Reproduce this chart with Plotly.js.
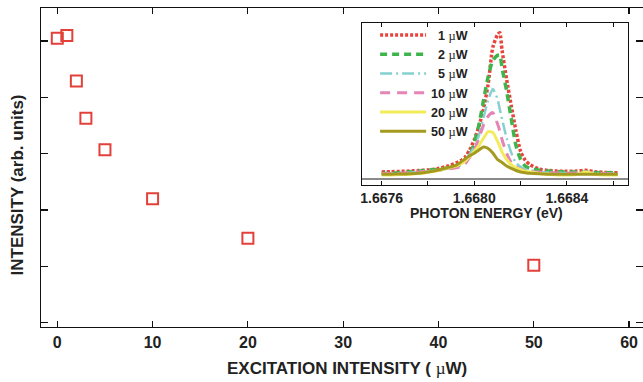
<!DOCTYPE html>
<html><head><meta charset="utf-8">
<script src="https://cdn.plot.ly/plotly-3.0.1.min.js"></script>
<style>html,body{margin:0;padding:0;background:#fff}#chart{width:643px;height:382px}</style>
</head><body><div id="chart"></div>
<script>
// Main panel: integrated intensity vs excitation power
const power = [0, 1, 2, 3, 5, 10, 20, 50];
const intensity = [5.05, 5.10, 4.29, 3.63, 3.07, 2.20, 1.50, 1.02];

// Inset: PL spectra
const energy = [1.66760,1.66764,1.66768,1.66772,1.66776,1.66780,1.66784,1.66788,1.66792,1.66794,1.66796,1.66798,1.66800,1.66802,1.66804,1.66806,1.66808,1.66810,1.66811,1.66812,1.66814,1.66816,1.66818,1.66820,1.66822,1.66824,1.66828,1.66832,1.66836,1.66840,1.66844,1.66848,1.66852,1.66856,1.66860,1.66862];
const spec1uW  = [0.050,0.052,0.054,0.056,0.060,0.064,0.072,0.088,0.110,0.125,0.150,0.200,0.270,0.360,0.480,0.650,0.900,0.985,1.000,0.880,0.680,0.500,0.330,0.190,0.130,0.100,0.070,0.060,0.056,0.054,0.056,0.062,0.052,0.047,0.045,0.044];
const spec2uW  = [0.040,0.042,0.045,0.050,0.055,0.062,0.068,0.075,0.088,0.100,0.125,0.160,0.250,0.370,0.540,0.700,0.810,0.845,0.848,0.760,0.600,0.410,0.230,0.135,0.090,0.075,0.062,0.056,0.052,0.050,0.050,0.048,0.046,0.045,0.044,0.044];
const spec5uW  = [0.040,0.040,0.042,0.045,0.050,0.055,0.062,0.072,0.092,0.110,0.135,0.170,0.220,0.300,0.420,0.540,0.615,0.550,0.480,0.410,0.280,0.180,0.110,0.085,0.068,0.060,0.050,0.046,0.044,0.043,0.044,0.046,0.043,0.040,0.040,0.040];
const spec10uW = [0.040,0.040,0.042,0.045,0.050,0.055,0.060,0.068,0.078,0.085,0.105,0.150,0.200,0.280,0.370,0.430,0.455,0.380,0.330,0.270,0.177,0.115,0.085,0.068,0.060,0.055,0.048,0.045,0.043,0.042,0.043,0.045,0.042,0.040,0.040,0.040];
const spec20uW = [0.030,0.030,0.032,0.035,0.040,0.048,0.058,0.075,0.090,0.105,0.125,0.155,0.190,0.230,0.280,0.325,0.320,0.260,0.225,0.185,0.135,0.100,0.078,0.065,0.055,0.050,0.040,0.035,0.030,0.030,0.032,0.050,0.035,0.030,0.030,0.030];
const spec50uW = [0.035,0.035,0.036,0.038,0.042,0.050,0.062,0.078,0.095,0.115,0.138,0.160,0.178,0.200,0.220,0.210,0.180,0.135,0.125,0.115,0.090,0.075,0.060,0.050,0.045,0.041,0.037,0.035,0.035,0.035,0.035,0.035,0.035,0.035,0.035,0.035];

const mu = "<span style='font-family:Liberation Serif;font-weight:normal'>µ</span>";
const seriesNames = ["\u20071 "+mu+"W","\u20072 "+mu+"W","\u20075 "+mu+"W","10 "+mu+"W","20 "+mu+"W","50 "+mu+"W"];
const spectra = [spec1uW, spec2uW, spec5uW, spec10uW, spec20uW, spec50uW];
const colors = ["#e8443c","#3db54a","#85d0d0","#e585b5","#f3ec5a","#a49a1f"];
const dashes = ["3px,2px","7px,5px","12px,4px,2px,4px","10px,7px","solid","solid"];
const widths = [3.5,3.5,2.5,3,3,3];

const F = "Liberation Sans, Arial, sans-serif";

const traces = [{
  x: power, y: intensity, type: "scatter", mode: "markers", showlegend: false,
  xaxis: "x", yaxis: "y",
  marker: {symbol: "square-open", size: 11, color: "#e3403a", line: {width: 2, color: "#e3403a"}}
}];
for (let i = 0; i < spectra.length; i++) {
  traces.push({
    x: energy, y: spectra[i], type: "scatter", mode: "lines", name: seriesNames[i],
    xaxis: "x2", yaxis: "y2",
    line: {color: colors[i], width: widths[i], dash: dashes[i], shape: "spline", smoothing: 0.6}
  });
}

const layout = {
  width: 643, height: 382,
  margin: {l: 41, r: 0, t: 8, b: 55},
  paper_bgcolor: "#fff", plot_bgcolor: "rgba(0,0,0,0)",
  font: {family: F, color: "#222"},
  showlegend: true,
  legend: {x: 0.555, y: 0.961, xanchor: "left", yanchor: "top", bgcolor: "rgba(0,0,0,0)",
    itemwidth: 46, font: {family: F, size: 12.5, weight: "bold", color: "#222"}, tracegroupgap: 0},
  xaxis: {domain: [0, 1], range: [-1.71, 61.46], tickvals: [0,10,20,30,40,50,60],
    ticks: "inside", ticklen: 6, tickcolor: "#111", tickwidth: 1.2,
    showline: true, linecolor: "#111", linewidth: 1.3, mirror: "ticks",
    showgrid: false, zeroline: false,
    tickfont: {family: F, size: 16, weight: "bold", color: "#222"}},
  yaxis: {domain: [0, 1], range: [-0.076, 5.587], tickvals: [0,1,2,3,4,5], showticklabels: false,
    ticks: "inside", ticklen: 7, tickcolor: "#111", tickwidth: 1.2,
    showline: true, linecolor: "#111", linewidth: 1.3, mirror: "ticks",
    showgrid: false, zeroline: false},
  xaxis2: {domain: [0.5332, 0.9751], anchor: "y2", range: [1.667515, 1.668664],
    tickvals: [1.6676,1.6678,1.6680,1.6682,1.6684,1.6686],
    ticktext: ["1.6676","","1.6680","","1.6684",""],
    ticks: "inside", ticklen: 4, tickcolor: "#111",
    showline: true, linecolor: "#111", linewidth: 1, mirror: "ticks",
    showgrid: false, zeroline: false,
    tickfont: {family: F, size: 14, weight: "bold", color: "#222"}},
  yaxis2: {domain: [0.4451, 0.9530], anchor: "x2", range: [-0.039, 1.066],
    showticklabels: false, ticks: "",
    showline: true, linecolor: "#111", linewidth: 1, mirror: true,
    showgrid: false, zeroline: true, zerolinecolor: "#8a8a8a", zerolinewidth: 2},
  annotations: [
    {text: "EXCITATION INTENSITY ( "+mu+"W)", xref: "paper", yref: "paper",
     x: (346.5-41)/602, y: (327-368)/319, xanchor: "center", yanchor: "middle", showarrow: false,
     font: {family: F, size: 17, weight: "bold", color: "#222"}},
    {text: "INTENSITY (arb. units)", xref: "paper", yref: "paper", textangle: -90,
     x: (16.5-41)/602, y: (327-185)/319, xanchor: "center", yanchor: "middle", showarrow: false,
     font: {family: F, size: 17, weight: "bold", color: "#222"}},
    {text: "PHOTON ENERGY (eV)", xref: "paper", yref: "paper",
     x: (486.7-41)/602, y: (327-212.5)/319, xanchor: "center", yanchor: "middle", showarrow: false,
     font: {family: F, size: 14, weight: "bold", color: "#222"}}
  ]
};

Plotly.newPlot("chart", traces, layout, {displayModeBar: false, staticPlot: true});
</script>
</body></html>
